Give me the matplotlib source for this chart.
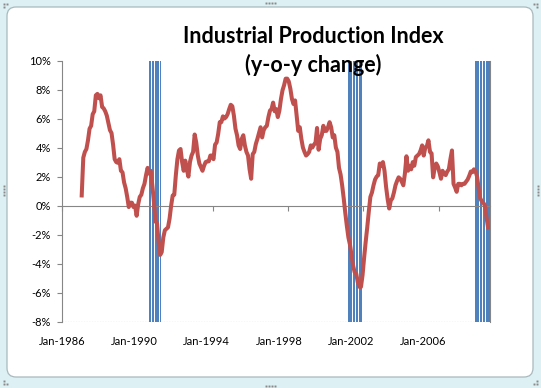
import pandas as pd
import matplotlib
matplotlib.use("Agg")
import matplotlib.pyplot as plt
from matplotlib.patches import FancyBboxPatch
from matplotlib.lines import Line2D
import matplotlib.transforms as mtransforms

plt.rcParams["font.family"] = ["Lato", "DejaVu Sans"]

# industrial production, y-o-y change in %, monthly from Jan-1987
first_month = "1987-01"
ip_yoy = [
    0.7, 3.3, 3.7, 3.9, 4.5, 5.3, 5.5, 6.3, 6.5, 7.6, 7.7, 7.4,          # 1987
    7.6, 6.8, 6.7, 6.5, 6.2, 5.7, 5.2, 5.0, 4.2, 3.2, 3.0, 2.95,         # 1988
    3.2, 2.4, 2.3, 1.6, 1.2, 0.6, -0.1, 0.2, 0.2, -0.1, 0.0, -0.7,       # 1989
    0.1, 0.6, 0.75, 1.2, 1.5, 2.1, 2.6, 2.2, 2.4, 1.4, 0.3, -1.1,        # 1990
    -1.2, -2.5, -3.4, -3.2, -2.2, -1.7, -1.6, -1.5, -0.9, 0.0, 0.7, 0.75,  # 1991
    2.1, 3.2, 3.8, 3.9, 3.0, 2.4, 3.1, 2.5, 2.0, 3.0, 3.45, 3.7,         # 1992
    4.9, 4.35, 3.45, 2.9, 2.65, 2.4, 2.75, 3.0, 3.05, 3.05, 3.45, 3.45,  # 1993
    3.2, 4.2, 4.35, 4.95, 5.75, 5.75, 6.15, 6.0, 6.1, 6.3, 6.65, 6.95,   # 1994
    6.85, 6.2, 5.3, 4.85, 4.15, 3.9, 4.6, 4.85, 4.15, 3.7, 3.45, 2.5,    # 1995
    1.85, 3.55, 3.7, 4.25, 4.6, 5.0, 5.4, 4.7, 5.2, 5.4, 5.5, 6.1,       # 1996
    6.55, 6.65, 7.1, 6.5, 6.65, 6.1, 6.55, 7.35, 7.95, 8.3, 8.75, 8.75,  # 1997
    8.55, 8.05, 7.35, 7.0, 7.25, 6.2, 5.15, 5.4, 4.6, 4.0, 3.7, 3.45,    # 1998
    3.55, 3.7, 4.15, 4.0, 4.2, 4.3, 5.35, 3.85, 4.6, 4.85, 5.5, 5.15,    # 1999
    5.15, 5.4, 5.75, 5.4, 4.7, 4.85, 4.0, 3.7, 2.6, 2.15, 1.4, 0.5,      # 2000
    -0.5, -1.4, -2.2, -2.7, -3.45, -4.15, -4.6, -4.7, -5.3, -5.6, -5.6, -4.8,  # 2001
    -3.6, -2.5, -1.5, -0.4, 0.6, 0.9, 1.4, 1.8, 2.0, 2.1, 2.9, 2.75,     # 2002
    3.0, 2.4, 1.3, 0.45, -0.2, 0.35, 0.5, 0.9, 1.4, 1.7, 1.95, 1.85,     # 2003
    1.65, 1.4, 2.2, 3.4, 2.4, 2.75, 2.5, 3.0, 2.75, 3.35, 3.45, 3.55,    # 2004
    3.8, 4.15, 3.45, 4.0, 4.1, 4.5, 3.7, 3.6, 1.95, 2.6, 2.9, 2.7,       # 2005
    2.3, 1.85, 2.4, 2.2, 2.1, 2.35, 2.5, 3.2, 3.8, 1.5, 1.25, 0.95,      # 2006
    1.5, 1.5, 1.4, 1.5, 1.5, 1.65, 1.8, 2.05, 2.35, 2.3, 2.5, 2.4,       # 2007
    2.0, 1.2, 0.5, 0.3, 0.2, 0.0, -0.8, -1.5,                            # 2008
]

# shaded recession months (first, last)
recessions = [("1990-08", "1991-03"), ("2001-03", "2001-11"), ("2007-12", "2008-09")]

tick_years = [1986, 1990, 1994, 1998, 2002, 2006]
tick_labels = ["Jan-%d" % y for y in tick_years]
y_ticks = [-8, -6, -4, -2, 0, 2, 4, 6, 8, 10]

base = pd.Period("1986-01", freq="M")


def month_index(p):
    return (pd.Period(p, freq="M") - base).n


W, H = 541, 388
fig = plt.figure(figsize=(W / 100, H / 100), dpi=100)
fig.patch.set_facecolor("#DDF0F3")

# chart area frame
frame = FancyBboxPatch((7, 388 - 377), 526, 370, boxstyle="round,pad=0,rounding_size=9",
                       transform=None, facecolor="white", edgecolor="#A9B9BD", lw=0.9, zorder=-5)
fig.patches.append(frame)


# little resize handles
def handle(xs, ys):
    fig.add_artist(Line2D(xs, [H - y for y in ys], transform=None, ls="none",
                          marker="s", ms=1.4, mec="none", mfc="#8A8A8A"))


handle([266, 269, 272, 275], [2.5] * 4)
handle([266, 269, 272, 275], [385.5] * 4)
handle([3.5] * 4, [186, 189, 192, 195])
handle([537.5] * 4, [186, 189, 192, 195])
handle([4, 7, 4], [4, 4, 7])
handle([537, 534, 537], [4, 4, 7])
handle([4, 7, 4], [384, 384, 381])
handle([537, 534, 537], [384, 384, 381])

ax = fig.add_axes([62.1 / W, (H - 321.7) / H, 428.3 / W, 261.2 / H])
ax.set_zorder(2)
ax.set_facecolor("none")

# recession bars
for start, end in recessions:
    months = pd.period_range(start, end, freq="M")
    xs = [month_index(str(m)) + 0.5 for m in months]
    ax.bar(xs, [18] * len(xs), bottom=-8, width=0.74, color="#4F81BD", zorder=1)

# bottom dotted line
ax.axhline(-8, color="#4F81BD", lw=0.8, ls=(0, (1.2, 1.2)), zorder=0.5)

# the series
periods = pd.period_range(first_month, periods=len(ip_yoy), freq="M")
x = [month_index(str(p)) + 0.5 for p in periods]
ax.plot(x, ip_yoy, color="#C0504D", lw=2.9, solid_joinstyle="round", zorder=3)

ax.set_xlim(0, 273)
ax.set_ylim(-8, 10)

ax.spines["top"].set_visible(False)
for s in ["left", "right", "bottom"]:
    ax.spines[s].set_color("#868686")
    ax.spines[s].set_linewidth(0.8)
ax.spines["bottom"].set_position(("data", 0))

ax.set_yticks(y_ticks)
ax.set_yticklabels(["%d%%" % v for v in y_ticks])
ax.tick_params(axis="y", direction="out", length=3.6, width=0.8, color="#868686",
               labelsize=8, pad=4.6)

xt = [(y - 1986) * 12 for y in tick_years]
ax.set_xticks(xt)
ax.set_xticklabels([])
ax.tick_params(axis="x", direction="out", length=3.6, width=0.8, color="#868686")

# category labels sit low, under the plot area
trans = mtransforms.blended_transform_factory(ax.transData, ax.transAxes)
for t, lab in zip(xt, tick_labels):
    ax.text(t * 0.96, -0.077, lab, transform=trans, ha="center", va="center", fontsize=8)

fig.text(313 / W, 1 - 42.7 / H, "Industrial Production Index", ha="center", va="baseline",
         fontsize=15.5, fontweight="bold", zorder=3)
fig.text(313 / W, 1 - 71.5 / H, "(y-o-y change)", ha="center", va="baseline",
         fontsize=15.5, fontweight="bold", zorder=3)

fig.savefig("out.png", dpi=100)
